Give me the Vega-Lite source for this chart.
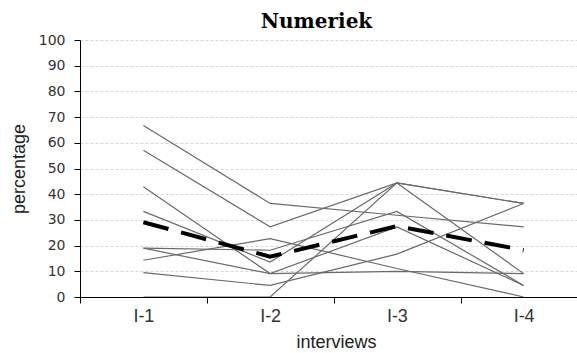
{
  "$schema": "https://vega.github.io/schema/vega-lite/v6.json",
  "width": 497,
  "height": 257,
  "autosize": {"type": "none"},
  "padding": {"left": 80, "top": 40, "right": 0, "bottom": 56},
  "title": {"text": "Numeriek", "font": "DejaVu Serif", "fontWeight": "bold", "fontSize": 20, "color": "#000000", "offset": 1, "dx": -12},
  "config": {
    "view": {"stroke": null},
    "axis": {"domainColor": "#000000", "tickColor": "#000000", "labelColor": "#333333", "titleColor": "#222222", "titleFont": "Liberation Sans", "titleFontWeight": "normal", "titleFontSize": 18}
  },
  "data": {
    "values": [
      {"series": "s1", "interview": "I-1", "value": 66.7},
      {"series": "s1", "interview": "I-2", "value": 36.4},
      {"series": "s1", "interview": "I-3", "value": 31.8},
      {"series": "s1", "interview": "I-4", "value": 27.3},
      {"series": "s2", "interview": "I-1", "value": 57.1},
      {"series": "s2", "interview": "I-2", "value": 27.3},
      {"series": "s2", "interview": "I-3", "value": 44.4},
      {"series": "s2", "interview": "I-4", "value": 36.4},
      {"series": "s3", "interview": "I-1", "value": 42.9},
      {"series": "s3", "interview": "I-2", "value": 9.1},
      {"series": "s3", "interview": "I-3", "value": 27.3},
      {"series": "s3", "interview": "I-4", "value": 4.5},
      {"series": "s4", "interview": "I-1", "value": 33.3},
      {"series": "s4", "interview": "I-2", "value": 13.6},
      {"series": "s4", "interview": "I-3", "value": 44.4},
      {"series": "s4", "interview": "I-4", "value": 9.1},
      {"series": "s5", "interview": "I-1", "value": 19.0},
      {"series": "s5", "interview": "I-2", "value": 18.2},
      {"series": "s5", "interview": "I-3", "value": 33.3},
      {"series": "s5", "interview": "I-4", "value": 4.5},
      {"series": "s6", "interview": "I-1", "value": 19.0},
      {"series": "s6", "interview": "I-2", "value": 9.1},
      {"series": "s6", "interview": "I-3", "value": 10.0},
      {"series": "s6", "interview": "I-4", "value": 9.1},
      {"series": "s7", "interview": "I-1", "value": 14.3},
      {"series": "s7", "interview": "I-2", "value": 22.7},
      {"series": "s7", "interview": "I-3", "value": 11.1},
      {"series": "s7", "interview": "I-4", "value": 0},
      {"series": "s8", "interview": "I-1", "value": 9.5},
      {"series": "s8", "interview": "I-2", "value": 4.5},
      {"series": "s8", "interview": "I-3", "value": 16.7},
      {"series": "s8", "interview": "I-4", "value": 36.4},
      {"series": "s9", "interview": "I-1", "value": 0},
      {"series": "s9", "interview": "I-2", "value": 0},
      {"series": "s9", "interview": "I-3", "value": 44.4},
      {"series": "s9", "interview": "I-4", "value": 36.4},
      {"series": "avg", "interview": "I-1", "value": 29.1},
      {"series": "avg", "interview": "I-2", "value": 15.7},
      {"series": "avg", "interview": "I-3", "value": 27.6},
      {"series": "avg", "interview": "I-4", "value": 18.2}
    ]
  },
  "encoding": {
    "x": {
      "field": "interview", "type": "ordinal",
      "sort": ["I-1", "I-2", "I-3", "I-4"],
      "scale": {"type": "band", "range": [0, 507], "paddingInner": 0, "paddingOuter": 0},
      "axis": {"title": "interviews", "zindex": 1, "grid": false, "tickOffset": -63, "labelOffset": 63, "tickSize": 6, "labelAngle": 0, "labelFont": "Liberation Sans", "labelFontSize": 18, "labelPadding": 4, "titlePadding": 8, "titleX": 256}
    },
    "y": {
      "field": "value", "type": "quantitative",
      "scale": {"domain": [0, 100], "nice": false},
      "axis": {"title": "percentage", "values": [0, 10, 20, 30, 40, 50, 60, 70, 80, 90, 100], "tickSize": 6, "labelFont": "DejaVu Sans", "labelFontSize": 14, "labelPadding": 9, "titlePadding": 10, "gridColor": "#d6d6d6", "gridDash": [3, 2], "gridWidth": 1}
    }
  },
  "layer": [
    {
      "transform": [{"filter": "datum.series !== 'avg'"}],
      "mark": {"type": "line", "color": "#6a6a6a", "strokeWidth": 1.2},
      "encoding": {"detail": {"field": "series"}}
    },
    {
      "transform": [{"filter": "datum.series === 'avg'"}],
      "mark": {"type": "line", "color": "#000000", "strokeWidth": 4, "strokeDash": [26, 13]},
      "encoding": {}
    }
  ]
}
